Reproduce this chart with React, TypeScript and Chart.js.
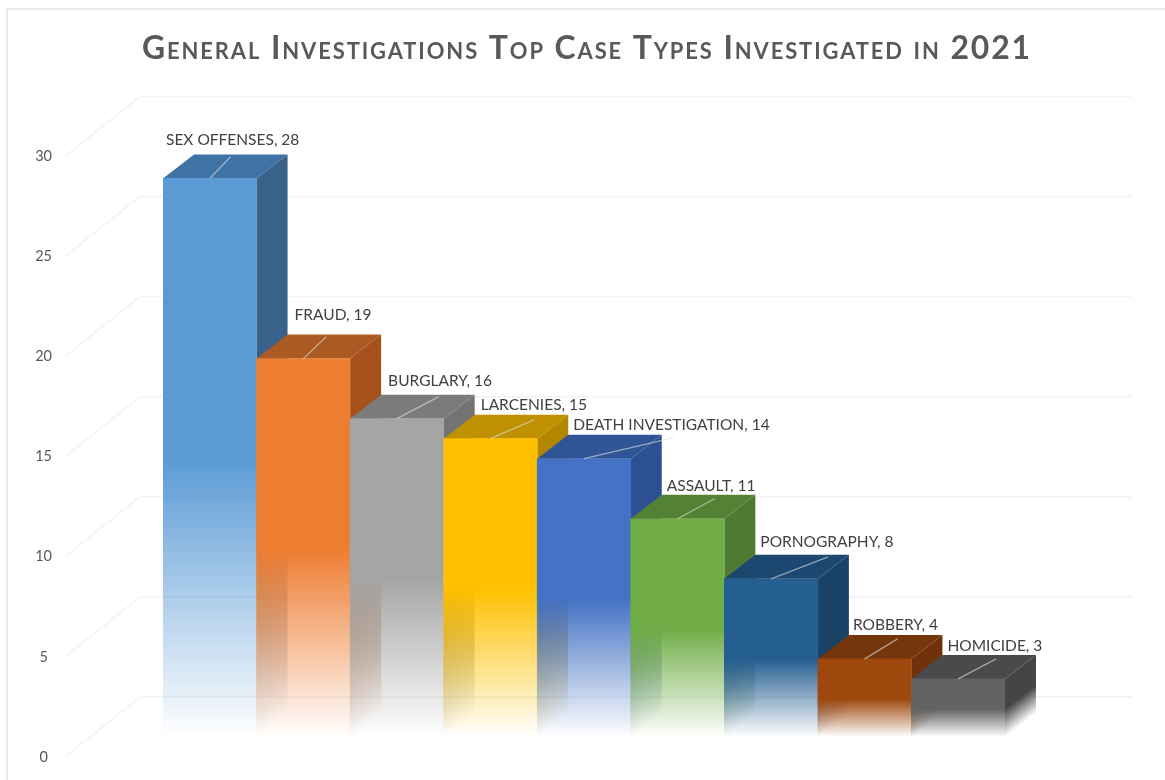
import React, { useEffect, useRef } from "react";
import { Chart, registerables } from "chart.js";

Chart.register(...registerables);

const categories = ["SEX OFFENSES", "FRAUD", "BURGLARY", "LARCENIES", "DEATH INVESTIGATION", "ASSAULT", "PORNOGRAPHY", "ROBBERY", "HOMICIDE"];
const caseCounts = [28, 19, 16, 15, 14, 11, 8, 4, 3];
const yTicks = [0, 5, 10, 15, 20, 25, 30];
const titleText = "General Investigations Top Case Types Investigated in 2021";

const frontColors = ["91,155,213", "237,125,49", "165,165,165", "255,192,0", "68,114,196", "112,173,71", "37,94,145", "158,72,14", "99,99,99"];
const topColors = ["#3f72a5", "#aa5a22", "#7b7b7b", "#bf9000", "#2f5597", "#548235", "#1c4770", "#76360b", "#4a4a4a"];
const sideColors = ["56,98,138", "166,80,28", "115,115,115", "179,134,0", "44,80,145", "78,122,50", "26,65,102", "111,50,10", "69,69,69"];

// label placement relative to the bar's front top-left corner
const labelDx = [3, 38, 38, 37, 36, 36, 36, 35, 36];
const labelDy = [-38, -44, -38, -34, -34, -33, -37, -34, -33];
// leader line end relative to the middle of the bar's front top edge
const leaderDx = [21, 23, 42, 44, 90, 37, 57, 33, 38];
const leaderDy = [-22, -22, -22, -19, -21, -20, -22, -20, -20];

const BAR_DX = 31;
const BAR_DY = 24;
const WALL_DX = 23;
const WALL_DY = 42;
const FLOOR_DX = 75;
const FLOOR_DY = 60;
const WALL_RIGHT = 1132;
const TITLE_LEFT = 142;
const TITLE_RIGHT = 1032;

const threeD = {
  id: "threeD",
  afterLayout(chart: any) {
    if (chart.titleBlock) {
      chart.titleBlock.left = TITLE_LEFT;
      chart.titleBlock.right = TITLE_RIGHT;
    }
  },
  beforeDatasetsDraw(chart: any) {
    const { ctx, scales } = chart;
    (ctx as any).letterSpacing = "0px";
    const y = scales.y;
    const x0 = chart.chartArea.left - WALL_DX;
    ctx.save();
    ctx.lineWidth = 2;
    ctx.strokeStyle = "#f5f5f5";
    yTicks.forEach((t) => {
      const py = y.getPixelForValue(t) - WALL_DY;
      ctx.beginPath();
      ctx.moveTo(x0 - FLOOR_DX, py + FLOOR_DY);
      ctx.lineTo(x0, py);
      ctx.lineTo(WALL_RIGHT, py);
      ctx.stroke();
    });
    const slope = BAR_DY / BAR_DX;
    const bars = chart.getDatasetMeta(0).data;
    bars.forEach((b: any, i: number) => {
      const left = b.x - b.width / 2;
      const right = b.x + b.width / 2;
      const top = b.y;
      const base = b.base;
      // side face: sheared so that its fade follows the slanted bottom edge
      ctx.save();
      ctx.transform(1, -slope, 0, 1, right, 0);
      const g = ctx.createLinearGradient(0, (top + base) / 2, 0, base - 2);
      g.addColorStop(0, `rgba(${sideColors[i]},1)`);
      g.addColorStop(1, `rgba(${sideColors[i]},0)`);
      ctx.fillStyle = g;
      ctx.fillRect(0, top, BAR_DX, base - top);
      ctx.restore();
      ctx.fillStyle = topColors[i];
      ctx.beginPath();
      ctx.moveTo(left, top);
      ctx.lineTo(left + BAR_DX, top - BAR_DY);
      ctx.lineTo(right + BAR_DX, top - BAR_DY);
      ctx.lineTo(right, top);
      ctx.closePath();
      ctx.fill();
    });
    ctx.restore();
  },
  afterDatasetsDraw(chart: any) {
    const { ctx } = chart;
    const bars = chart.getDatasetMeta(0).data;
    ctx.save();
    bars.forEach((b: any, i: number) => {
      const left = b.x - b.width / 2;
      ctx.strokeStyle = "rgba(225,225,225,0.6)";
      ctx.lineWidth = 1.3;
      ctx.beginPath();
      ctx.moveTo(b.x, b.y);
      ctx.lineTo(b.x + leaderDx[i], b.y + leaderDy[i]);
      ctx.stroke();
      ctx.fillStyle = "#404040";
      ctx.font = "15.5px Lato";
      ctx.textBaseline = "middle";
      ctx.textAlign = "left";
      ctx.fillText(`${categories[i]}, ${caseCounts[i]}`, left + labelDx[i], b.y + labelDy[i]);
    });
    ctx.restore();
  },
};

const frame = {
  id: "frame",
  beforeDraw(chart: any) {
    const { ctx } = chart;
    ctx.save();
    ctx.strokeStyle = "#e4e4e4";
    ctx.lineWidth = 1.5;
    ctx.beginPath();
    ctx.moveTo(7, 780);
    ctx.lineTo(7, 9);
    ctx.lineTo(1165, 9);
    ctx.stroke();
    ctx.restore();
    (ctx as any).letterSpacing = "1.9px";
  },
};

export default function App() {
  const ref = useRef<HTMLCanvasElement>(null);
  useEffect(() => {
    document.body.style.margin = "0";
    const chart = new Chart(ref.current!, {
      type: "bar",
      data: {
        labels: categories,
        datasets: [
          {
            data: caseCounts,
            barPercentage: 1,
            categoryPercentage: 1,
            borderWidth: 0,
            backgroundColor: (c: any) => {
              const i = c.dataIndex;
              const y = c.chart.scales.y;
              if (i === undefined || !y) return "#888";
              const y0 = y.getPixelForValue(caseCounts[i] / 2);
              const y1 = y.getPixelForValue(0) - 2;
              if (!Number.isFinite(y0) || !Number.isFinite(y1)) return "#888";
              const g = c.chart.ctx.createLinearGradient(0, y0, 0, y1);
              g.addColorStop(0, `rgba(${frontColors[i]},1)`);
              g.addColorStop(1, `rgba(${frontColors[i]},0)`);
              return g;
            },
          },
        ],
      },
      options: {
        animation: false,
        responsive: false,
        layout: { padding: { top: 0, left: 0, right: 160, bottom: 41 } },
        plugins: {
          legend: { display: false },
          tooltip: { enabled: false },
          title: {
            display: true,
            text: titleText,
            color: "#595959",
            font: { family: "Lato", size: 32, weight: "small-caps bold" as any },
            padding: { top: 29, bottom: 71 },
          },
        },
        scales: {
          x: { display: false },
          y: {
            min: 0,
            max: 30,
            afterFit: (s: any) => {
              s.width = 163;
            },
            grid: { display: false, drawTicks: true, tickLength: 111 },
            border: { display: false },
            ticks: {
              stepSize: 5,
              color: "#595959",
              padding: 0,
              labelOffset: 18,
              crossAlign: "center",
              z: 1,
              font: { family: "Lato", size: 14.5 },
            },
          },
        },
      },
      plugins: [frame, threeD],
    });
    return () => chart.destroy();
  }, []);
  return <canvas ref={ref} width={1165} height={780} style={{ display: "block", filter: "blur(0.5px)" }} />;
}
